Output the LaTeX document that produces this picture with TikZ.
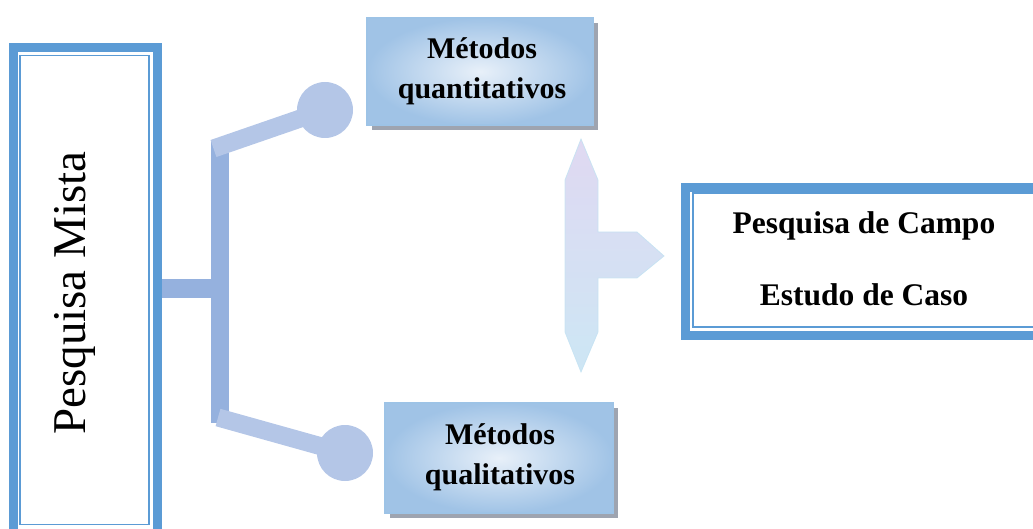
\documentclass[tikz,border=0pt]{standalone}
\usepackage{fontspec}
\setmainfont{Liberation Serif}
\usetikzlibrary{positioning}
\definecolor{frameblue}{RGB}{91,155,213}
\definecolor{barvert}{RGB}{149,177,222}
\definecolor{bardiag}{RGB}{180,198,231}
\definecolor{boxedge}{RGB}{157,195,230}
\definecolor{shadowgray}{RGB}{158,164,176}
\definecolor{gradIn}{RGB}{232,240,249}
\definecolor{gradOut}{RGB}{160,195,230}
\definecolor{arrA}{RGB}{218,210,240}
\definecolor{arrB}{RGB}{210,222,244}
\definecolor{arrC}{RGB}{196,226,242}
\tikzset{
  thickframe/.style={draw=frameblue, line width=9pt},
  thinframe/.style={draw=frameblue, line width=1.7pt},
  methodbox/.style={draw=boxedge, line width=1.2pt, inner color=gradIn, outer color=gradOut},
  methodtext/.style={align=center, font=\bfseries\fontsize{30}{40}\selectfont, inner sep=0pt},
  bar/.style={line width=18pt, line cap=butt},
}
\begin{document}
\begin{tikzpicture}[x=1pt,y=-1pt]
\useasboundingbox (0,0) rectangle (1033,529);
\begin{scope}
\clip (0,0) rectangle (1033,529);
% left framed box
\draw[thickframe] (13.5,47.5) rectangle (157,560);
\draw[thinframe] (19.8,55.5) rectangle (148.7,524.5);
\node[rotate=90, font=\fontsize{47}{50}\selectfont, inner sep=0pt] (mista) at (75,293) {Pesquisa Mista};
\coordinate (leftedge) at (162,288.5);
% right framed box
\draw[thickframe] (685,187.5) rectangle (1060,335);
\draw[thinframe] (693,193) rectangle (1050,327);
\node[align=center, font=\bfseries\fontsize{31.5}{72}\selectfont, inner sep=0pt] (campo) at (864,259) {Pesquisa de Campo\\Estudo de Caso};
\end{scope}
% connector bars
\coordinate (jtop) at (220,140);
\coordinate (jbot) at (220,423);
\coordinate (jmid) at (220,288.5);
\coordinate (utop) at (213.5,148.5);
\coordinate (lbot) at (218,417.5);
\node[circle, fill=bardiag, minimum size=56pt, inner sep=0pt] (c1) at (325,110) {};
\node[circle, fill=bardiag, minimum size=56pt, inner sep=0pt] (c2) at (345,453) {};
\draw[bar, barvert] (leftedge) -- (jmid);
\draw[bar, barvert] (jtop) -- (jbot);
\draw[bar, bardiag] (utop) -- (c1.center);
\draw[bar, bardiag] (lbot) -- (c2.center);
% method boxes
\fill[shadowgray] (372,23) rectangle (598,130);
\path[methodbox] (367,18) rectangle (593,125);
\node[methodtext] (quant) at (482,71) {Métodos\\quantitativos};
\fill[shadowgray] (390,408) rectangle (618,518);
\path[methodbox] (385,403) rectangle (613,513);
\node[methodtext] (qual) at (500,457) {Métodos\\qualitativos};
% three-way arrow
\path[draw=arrC, line width=0.8pt, shading=axis, top color=arrA, middle color=arrB, bottom color=arrC, opacity=0.85]
  (581,139) -- (598,180) -- (598,232) -- (637,232) -- (664,256) -- (637,278) -- (598,278)
  -- (598,332) -- (581,372) -- (565,332) -- (565,180) -- cycle;
\end{tikzpicture}
\end{document}
